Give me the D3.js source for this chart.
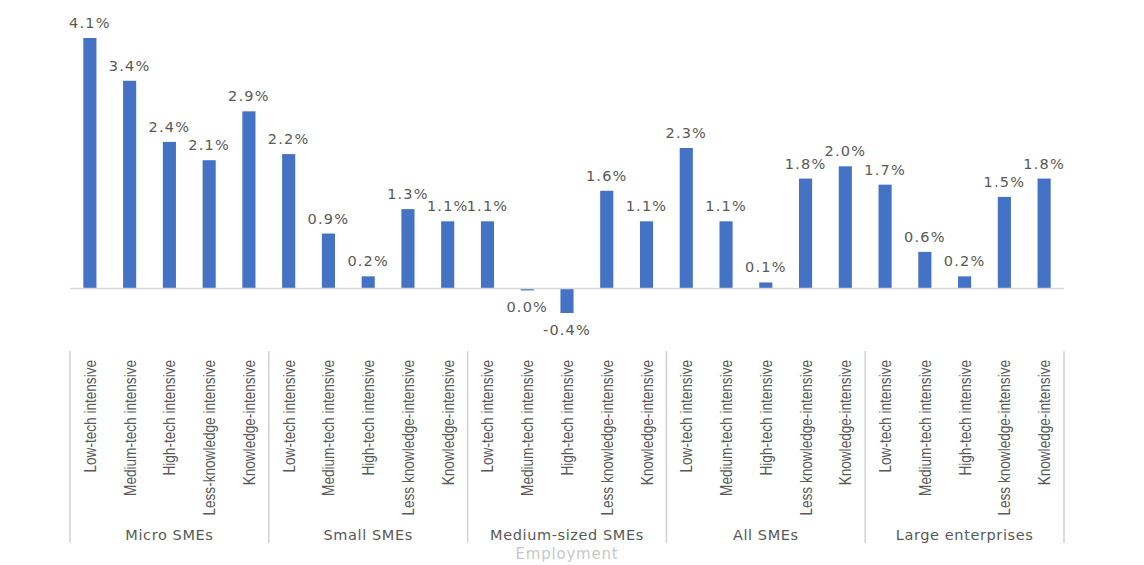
<!DOCTYPE html>
<html>
<head>
<meta charset="utf-8">
<script src="https://cdn.jsdelivr.net/npm/d3@7"></script>
<style>
  body { margin: 0; background: #ffffff; }
  svg { display: block; }
</style>
</head>
<body>
<svg></svg>
<script>
// groups along the bottom
var groups = ["Micro SMEs", "Small SMEs", "Medium-sized SMEs", "All SMEs", "Large enterprises"];

// sector labels, five per group
var sectors = [
  "Low-tech intensive", "Medium-tech intensive", "High-tech intensive", "Less-knowledge intensive", "Knowledge-intensive",
  "Low-tech intensive", "Medium-tech intensive", "High-tech intensive", "Less knowledge-intensive", "Knowledge-intensive",
  "Low-tech intensive", "Medium-tech intensive", "High-tech intensive", "Less knowledge-intensive", "Knowledge-intensive",
  "Low-tech intensive", "Medium-tech intensive", "High-tech intensive", "Less knowledge-intensive", "Knowledge-intensive",
  "Low-tech intensive", "Medium-tech intensive", "High-tech intensive", "Less knowledge-intensive", "Knowledge-intensive"
];

// growth, in percent
var values = [
  4.1, 3.4, 2.4, 2.1, 2.9,
  2.2, 0.9, 0.2, 1.3, 1.1,
  1.1, -0.03, -0.4, 1.6, 1.1,
  2.3, 1.1, 0.1, 1.8, 2.0,
  1.7, 0.6, 0.2, 1.5, 1.8
];

var axisTitle = "Employment";

var svg = d3.select("svg")
            .attr("width", 1144)
            .attr("height", 565);

var left = 70, right = 1064;

var xScale = d3.scaleBand()
               .domain(d3.range(values.length))
               .range([left, right])
               .paddingInner(0.67)
               .paddingOuter(0.335);

var yScale = d3.scaleLinear()
               .domain([-0.4, 4.1])
               .range([313, 38]);

var groupScale = d3.scaleBand()
                   .domain(groups)
                   .range([left, right]);

// bars
svg.selectAll("rect.bar")
   .data(values)
   .enter()
   .append("rect")
   .attr("class", "bar")
   .attr("x", function(d, i) { return xScale(i); })
   .attr("y", function(d) { return yScale(Math.max(0, d)); })
   .attr("width", xScale.bandwidth())
   .attr("height", function(d) { return Math.abs(yScale(d) - yScale(0)); })
   .attr("fill", "#4472c4");

// zero line
svg.append("line")
   .attr("x1", left).attr("x2", right)
   .attr("y1", yScale(0)).attr("y2", yScale(0))
   .attr("stroke", "#d9d9d9")
   .attr("stroke-width", 1.5);

// value labels
svg.selectAll("text.val")
   .data(values)
   .enter()
   .append("text")
   .attr("class", "val")
   .attr("x", function(d, i) { return xScale(i) + xScale.bandwidth() / 2; })
   .attr("y", function(d) { return d < 0 ? yScale(d) + 22 : yScale(d) - 10; })
   .attr("text-anchor", "middle")
   .attr("font-family", "DejaVu Sans")
   .attr("font-size", 14.5)
   .attr("letter-spacing", 1.2)
   .attr("fill", "#595959")
   .text(function(d) { return (Math.abs(d) < 0.05 ? 0 : d).toFixed(1) + "%"; });

// group separators
var seps = groups.map(function(g) { return groupScale(g); }).concat([right]);
svg.selectAll("line.sep")
   .data(seps)
   .enter()
   .append("line")
   .attr("class", "sep")
   .attr("x1", function(d) { return d; }).attr("x2", function(d) { return d; })
   .attr("y1", 351).attr("y2", 543)
   .attr("stroke", "#d0d0d0")
   .attr("stroke-width", 1.5);

// sector labels (narrow, like the original Calibri)
svg.selectAll("text.sector")
   .data(sectors)
   .enter()
   .append("text")
   .attr("class", "sector")
   .attr("transform", function(d, i) {
     return "translate(" + (xScale(i) + xScale.bandwidth() / 2 + 6) + ",360) rotate(-90) scale(0.8,1)";
   })
   .attr("text-anchor", "end")
   .attr("font-family", "Liberation Sans")
   .attr("font-size", 17)
   .attr("fill", "#595959")
   .text(function(d) { return d; });

// group labels
svg.selectAll("text.group")
   .data(groups)
   .enter()
   .append("text")
   .attr("class", "group")
   .attr("x", function(d) { return groupScale(d) + groupScale.bandwidth() / 2; })
   .attr("y", 540)
   .attr("text-anchor", "middle")
   .attr("font-family", "DejaVu Sans")
   .attr("font-size", 14.5)
   .attr("letter-spacing", 0.6)
   .attr("fill", "#595959")
   .text(function(d) { return d; });

// axis title (nearly cut at the bottom in the original)
svg.append("text")
   .attr("x", 567)
   .attr("y", 559)
   .attr("text-anchor", "middle")
   .attr("font-family", "DejaVu Sans")
   .attr("font-size", 15)
   .attr("letter-spacing", 0.8)
   .attr("fill", "#c8c8c8")
   .text(axisTitle);
</script>
</body>
</html>
